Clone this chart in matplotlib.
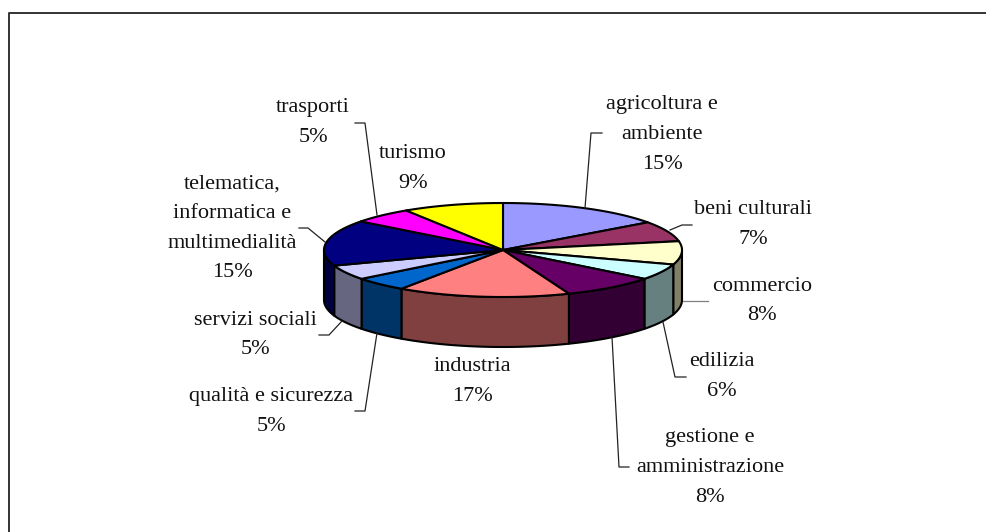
import numpy as np
import matplotlib
matplotlib.use("Agg")
import matplotlib.pyplot as plt

# Data
categories = ["agricoltura e\nambiente", "beni culturali", "commercio", "edilizia",
              "gestione e\namministrazione", "industria", "qualità e sicurezza",
              "servizi sociali", "telematica,\ninformatica e\nmultimedialità",
              "trasporti", "turismo"]
# percentages as printed on the labels
percent_labels = [15, 7, 8, 6, 8, 17, 5, 5, 15, 5, 9]
# slice sizes as measured on the drawn pie (3D view skews them from the printed ones)
slice_sizes = [15, 7, 8, 5.5, 8.5, 15.6, 4.9, 5.1, 15.8, 5.5, 9.1]
top_colors = ["#9999FF", "#993366", "#FFFFCC", "#CCFFFF", "#660066", "#FF8080",
              "#0066CC", "#CCCCFF", "#000080", "#FF00FF", "#FFFF00"]
wall_colors = ["#4D4D80", "#4D1A33", "#808066", "#668080", "#330033", "#804040",
               "#003366", "#666680", "#000040", "#800080", "#808000"]

# Layout, all in image pixels
CX, CY = 503, 250
RX, RY = 179, 47
DEPTH = 50
LW = 1.5

label_pos = [(662, 134.5), (753, 224.5), (762, 301), (722, 376.5), (710, 467.5), (472, 381.5),
             (271.5, 411.5), (255, 335), (232, 228.5), (313, 122.5), (413, 168.5)]
leaders = [[(602, 133), (591, 133), (585, 208)],
           [(692, 225), (682, 225), (670, 230)],
           [(708, 301), (683, 301)],
           [(686, 377), (675, 377), (663, 322)],
           [(629, 467), (619, 467), (612, 337)],
           None,
           [(355, 411), (365, 411), (377, 333)],
           [(319, 335), (329, 335), (342, 321)],
           [(299, 228), (308, 228), (325, 242)],
           [(355, 123), (365, 123), (377, 215)],
           None]
leader_colors = ["#222222", "#222222", "#808080", "#222222", "#222222", None,
                 "#222222", "#222222", "#222222", "#222222", None]


def rim(a0, a1):
    # points on the ellipse, angles clockwise from the top
    t = np.radians(np.linspace(a0, a1, max(int(abs(a1 - a0)) * 2, 2)))
    return CX + RX * np.sin(t), CY - RY * np.cos(t)


fig = plt.figure(figsize=(9.87, 5.32), dpi=100)
fig.patch.set_facecolor("white")
ax = fig.add_axes([0, 0, 1, 1])
ax.set_xlim(0, 987)
ax.set_ylim(532, 0)
ax.axis("off")

# chart area frame, runs off the right and bottom of the picture
ax.plot([9, 9, 1000], [545, 13, 13], color="#333333", lw=1.4, zorder=1)

edges = np.cumsum([0] + slice_sizes) / sum(slice_sizes) * 360

# side walls, only the front half shows
for i in range(len(slice_sizes)):
    a0 = max(edges[i], 90)
    a1 = min(edges[i + 1], 270)
    if a1 <= a0:
        continue
    x, y = rim(a0, a1)
    ax.fill(np.r_[x, x[::-1]], np.r_[y, y[::-1] + DEPTH], facecolor=wall_colors[i],
            edgecolor="black", lw=LW, joinstyle="round", zorder=2)

# top face
for i in range(len(slice_sizes)):
    x, y = rim(edges[i], edges[i + 1])
    ax.fill(np.r_[CX, x], np.r_[CY, y], facecolor=top_colors[i],
            edgecolor="black", lw=LW, joinstyle="round", zorder=3)

# leader lines
for pts, col in zip(leaders, leader_colors):
    if pts is None:
        continue
    xs, ys = zip(*pts)
    ax.plot(xs, ys, color=col, lw=0.9, zorder=4)

# labels
for cat, val, (lx, ly) in zip(categories, percent_labels, label_pos):
    ax.text(lx, ly, f"{cat}\n{val}%", ha="center", va="center", multialignment="center",
            fontsize=16, family="Liberation Serif", linespacing=1.76, color="#111111", zorder=5)

fig.savefig("out.png", dpi=100)
